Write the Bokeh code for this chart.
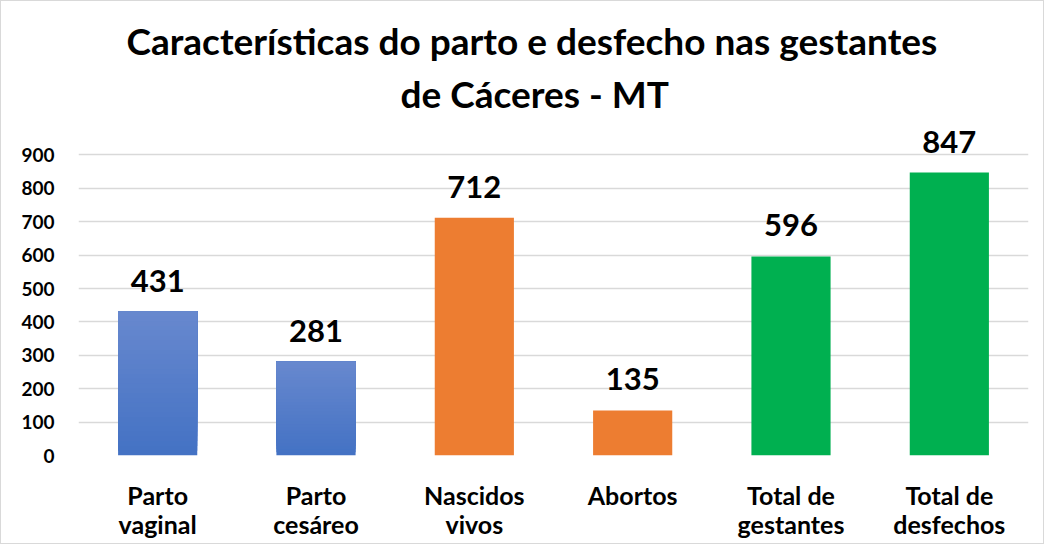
from bokeh.plotting import figure
from bokeh.models import ColumnDataSource, LabelSet, Title, FixedTicker
from bokeh.core.properties import value
from bokeh.embed import file_html
from bokeh.resources import INLINE

categories = ["Parto\nvaginal", "Parto\ncesáreo", "Nascidos\nvivos", "Abortos",
              "Total de\ngestantes", "Total de\ndesfechos"]
values = [431, 281, 712, 135, 596, 847]
colors = ["#4472C4", "#4472C4", "#ED7D31", "#ED7D31", "#00B050", "#00B050"]
y_ticks = [0, 100, 200, 300, 400, 500, 600, 700, 800, 900]

FONT = "Lato"

p = figure(x_range=categories, y_range=(0, 1000), width=1044, height=544,
           output_backend="svg", toolbar_location=None,
           min_border_left=77, min_border_right=17, min_border_top=120,
           min_border_bottom=90)
p.styles = {"border": "1px solid #d9d9d9"}
p.outline_line_color = None

# gradient for blue bars (Excel-like), solid for others
n = 30
top_rgb = (0x67, 0x88, 0xCE)
bot_rgb = (0x44, 0x72, 0xC4)
for c, v, col in zip(categories, values, colors):
    if col == "#4472C4":
        xs, bots, tops, cols = [], [], [], []
        for k in range(n):
            f = k / (n - 1)
            r = int(round(bot_rgb[0] + (top_rgb[0] - bot_rgb[0]) * f))
            g = int(round(bot_rgb[1] + (top_rgb[1] - bot_rgb[1]) * f))
            b = int(round(bot_rgb[2] + (top_rgb[2] - bot_rgb[2]) * f))
            xs.append(c)
            bots.append(v * k / n)
            tops.append(v)
            cols.append("#%02x%02x%02x" % (r, g, b))
        p.vbar(x=xs, bottom=bots, top=tops, width=0.5, color=cols, line_color=None)
    else:
        p.vbar(x=[c], top=[v], width=0.5, color=col, line_color=None)

src = ColumnDataSource(dict(x=categories, y=values, t=[str(v) for v in values]))
labels = LabelSet(x="x", y="y", text="t", source=src, text_align="center",
                  text_baseline="bottom", y_offset=20, text_font=value(FONT),
                  text_font_style="bold", text_font_size="31px", text_color="#000000")
p.add_layout(labels)

p.yaxis.ticker = FixedTicker(ticks=y_ticks)
p.ygrid.ticker = FixedTicker(ticks=y_ticks)
p.ygrid.grid_line_color = "#d9d9d9"
p.ygrid.grid_line_width = 1.5
p.xgrid.grid_line_color = None

for ax in (p.xaxis, p.yaxis):
    ax.axis_line_color = None
    ax.major_tick_line_color = None
    ax.minor_tick_line_color = None
    ax.major_label_text_font = FONT
    ax.major_label_text_font_style = "bold"
    ax.major_label_text_color = "#000000"

p.yaxis.major_label_text_font_size = "19px"
p.yaxis.major_label_standoff = 18
p.xaxis.major_label_text_font_size = "25px"
p.xaxis.major_label_standoff = 18
p.xaxis.major_label_text_line_height = 0.97

p.add_layout(Title(text="de Cáceres - MT", align="left", text_font=FONT,
                   text_font_style="bold", text_font_size="37px",
                   text_color="#000000", standoff=12, offset=322,
                   text_line_height=1.12), "above")
p.add_layout(Title(text="Características do parto e desfecho nas gestantes",
                   align="left", text_font=FONT, text_font_style="bold",
                   text_font_size="37px", text_color="#000000", standoff=0,
                   offset=48), "above")

open("out.html", "w").write(file_html(p, INLINE))
